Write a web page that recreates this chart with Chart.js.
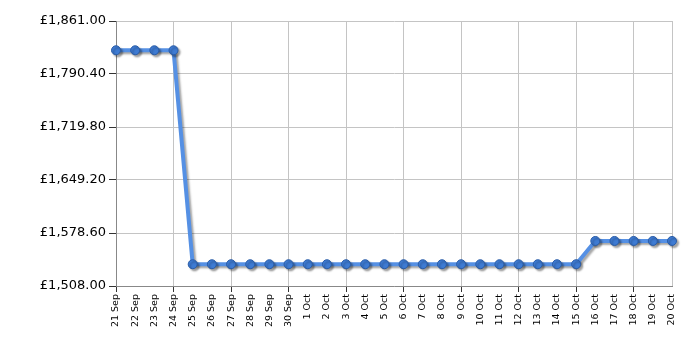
<!DOCTYPE html>
<html>
<head>
<meta charset="utf-8">
<script src="https://cdn.jsdelivr.net/npm/chart.js@4/dist/chart.umd.min.js"></script>
<style>
html,body{margin:0;padding:0;background:#fff;}
#wrap{width:700px;height:350px;position:relative;}
</style>
</head>
<body>
<div id="wrap"><canvas id="c" width="700" height="350"></canvas></div>
<script>
const categories = ["21 Sep","22 Sep","23 Sep","24 Sep","25 Sep","26 Sep","27 Sep","28 Sep","29 Sep","30 Sep",
  "1 Oct","2 Oct","3 Oct","4 Oct","5 Oct","6 Oct","7 Oct","8 Oct","9 Oct","10 Oct",
  "11 Oct","12 Oct","13 Oct","14 Oct","15 Oct","16 Oct","17 Oct","18 Oct","19 Oct","20 Oct"];
const prices = [1822,1822,1822,1822,1537,1537,1537,1537,1537,1537,
  1537,1537,1537,1537,1537,1537,1537,1537,1537,1537,
  1537,1537,1537,1537,1537,1568,1568,1568,1568,1568];
const yTicks = [1508.00,1578.60,1649.20,1719.80,1790.40,1861.00];

const shadowPlugin = {
  id:'shadow',
  beforeDatasetsDraw(chart){
    const ctx = chart.ctx; ctx.save();
    ctx.shadowColor='rgba(0,0,0,0.35)'; ctx.shadowOffsetX=2; ctx.shadowOffsetY=2; ctx.shadowBlur=2;
  },
  afterDatasetsDraw(chart){ chart.ctx.restore(); }
};

const gridCol = (ctx)=> (ctx.index%3===0 || ctx.index===categories.length-1) ? '#c4c4c4' : 'rgba(0,0,0,0)';
const tickCol = (ctx)=> (ctx.index%3===0) ? '#333' : 'rgba(0,0,0,0)';

new Chart(document.getElementById('c'),{
  type:'line',
  data:{labels:categories,datasets:[{
    data:prices,
    borderColor:'#5590e4',
    borderWidth:4,
    pointRadius:4.5,
    pointBackgroundColor:'#3e7bd3',
    pointBorderColor:'#2a5ca6',
    pointBorderWidth:1,
    tension:0,
    clip:false
  }]},
  options:{
    responsive:false,
    animation:false,
    layout:{padding:{left:0,right:28,top:21,bottom:0}},
    plugins:{legend:{display:false},tooltip:{enabled:false}},
    scales:{
      x:{
        offset:false,
        grid:{color:gridCol,tickColor:tickCol,tickLength:6,drawOnChartArea:true},
        border:{color:'#888',width:1},
        ticks:{autoSkip:false,maxRotation:90,minRotation:90,color:'#000',padding:2,
          font:{family:'DejaVu Sans',size:9.5}},
        afterFit(s){ s.height=64; }
      },
      y:{
        min:1508,max:1861,
        afterBuildTicks(s){ s.ticks = yTicks.map(v=>({value:v})); },
        grid:{color:'#c4c4c4',tickColor:'#333',tickLength:7},
        border:{color:'#888',width:1},
        ticks:{color:'#000',padding:3,
          font:{family:'DejaVu Sans',size:13},
          callback:(v)=>'£'+Number(v).toLocaleString('en-GB',{minimumFractionDigits:2,maximumFractionDigits:2})},
        afterFit(s){ s.width=116; }
      }
    }
  },
  plugins:[shadowPlugin]
});
</script>
</body>
</html>
